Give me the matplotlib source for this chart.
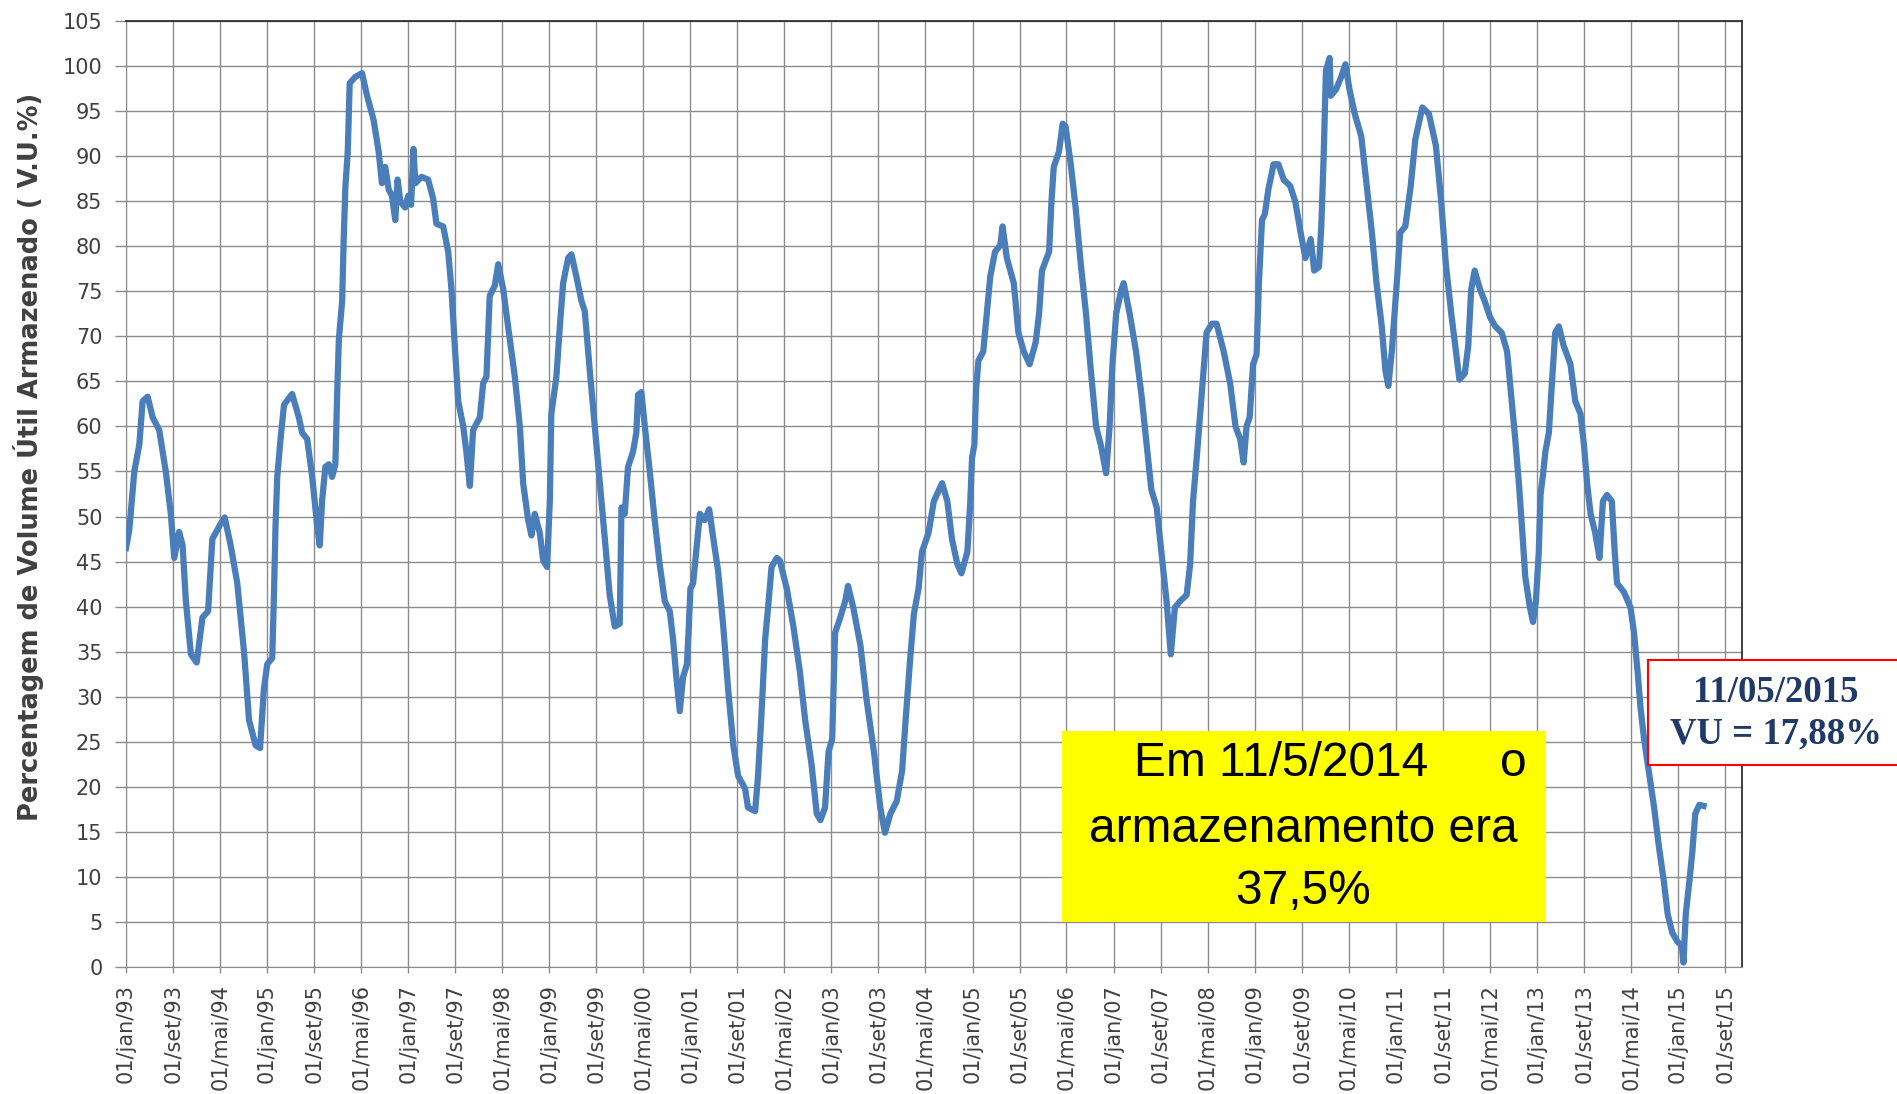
import numpy as np
import matplotlib.pyplot as plt
from matplotlib.patches import Rectangle

# meses contados a partir de 01/jan/1993 e volume útil (%)
meses = [0, 0.57, 1.41, 2.26, 2.83, 3.68, 4.52, 5.65, 6.78, 7.63, 8.2, 9.05, 9.61, 10.18,
         11.03, 12.04, 13.0, 13.97, 14.7, 16.11, 16.79, 17.81, 18.94, 20.07, 20.92, 22.05,
         22.79, 23.46, 24.03, 24.88, 25.16, 25.44, 25.73, 26.29, 26.86, 28.27, 29.4, 29.97,
         30.81, 31.66, 32.51, 32.96, 33.36, 33.92, 34.49, 35.05, 35.62, 35.9, 36.19, 36.75,
         37.03, 37.32, 37.71, 38.05, 39.01, 40.14, 40.99, 42.12, 42.97, 43.54, 44.1, 44.67,
         45.23, 45.8, 46.19, 46.65, 47.49, 48.0, 48.5, 48.9, 49.2, 50.27, 51.4, 52.25, 52.8,
         53.95, 54.8, 55.37, 55.93, 56.5, 57.35, 57.9, 58.48, 59.05, 60.18, 60.75, 61.3,
         61.88, 62.73, 63.3, 64.15, 65.0, 66.13, 66.98, 67.55, 68.4, 68.96, 69.53, 70.38,
         70.95, 71.63, 72.08, 72.36, 73.21, 73.78, 74.35, 75.2, 75.76, 76.61, 77.46, 78.03,
         78.88, 79.73, 80.58, 81.43, 82.28, 83.13, 83.98, 84.26, 84.83, 85.4, 86.25, 86.81,
         87.1, 87.66, 88.23, 89.08, 89.93, 90.78, 91.63, 92.48, 93.05, 93.61, 94.18, 94.75,
         95.4, 95.7, 96.0, 96.45, 97.0, 97.6, 98.4, 99.2, 99.9, 100.7, 101.6, 102.4, 103.3,
         104.1, 105.3, 105.8, 107.0, 107.5, 108.1, 108.7, 109.2, 109.8, 110.7, 111.2, 112.4,
         113.5, 114.6, 115.5, 116.6, 117.5, 118.1, 118.9, 119.5, 120.1, 120.6, 121.5, 122.3,
         122.8, 123.7, 124.9, 126.0, 127.2, 128.3, 129.1, 130.0, 131.1, 132.0, 132.6, 133.4,
         134.0, 134.8, 135.4, 136.5, 137.4, 138.8, 139.7, 140.5, 141.4, 142.1, 143.1, 143.6,
         143.9, 144.3, 144.6, 145.0, 145.8, 146.4, 147.0, 147.8, 148.7, 149.1, 149.8, 151.0,
         151.8, 152.7, 153.7, 154.7, 155.3, 155.8, 157.0, 157.4, 157.8, 158.7, 159.3, 159.8,
         160.7, 161.5, 162.4, 163.3, 164.1, 165.0, 165.8, 166.7, 167.3, 167.8, 168.4, 169.3,
         169.7, 170.7, 171.8, 172.7, 173.5, 174.4, 175.3, 176.1, 177.0, 177.7, 178.4, 179.3,
         180.4, 181.0, 181.5, 182.1, 182.7, 183.3, 183.8, 184.7, 185.5, 186.7, 187.8, 188.7,
         189.5, 190.1, 190.6, 191.1, 191.7, 192.3, 192.7, 193.2, 193.7, 194.3, 195.2, 196.0,
         196.9, 198.0, 198.9, 199.8, 200.6, 201.5, 202.1, 202.9, 203.3, 203.7, 204.1, 204.7,
         204.9, 205.8, 206.7, 207.4, 208.1, 209.0, 210.1, 211.0, 211.9, 212.7, 213.6, 214.2,
         214.7, 215.3, 216.2, 216.7, 217.6, 218.5, 219.3, 220.5, 221.6, 222.8, 223.7, 224.5,
         225.4, 226.2, 226.8, 227.7, 228.3, 228.8, 229.4, 230.3, 231.1, 232.0, 232.9, 234.0,
         234.9, 235.5, 236.3, 236.9, 237.5, 238.0, 238.8, 239.3, 239.8, 240.3, 240.6, 241.1,
         241.4, 242.0, 242.6, 243.1, 243.7, 244.5, 245.7, 246.5, 247.4, 248.0, 248.5, 249.1,
         249.9, 250.6, 251.2, 251.9, 252.7, 253.2, 253.6, 254.8, 255.9, 256.5, 257.1, 257.6,
         258.2, 259.0, 259.9, 260.7, 261.6, 262.2, 263.0, 263.9, 264.6, 264.9, 265.3, 265.9,
         266.4, 266.9, 267.6, 268.33]

vu = [46.5, 48.5, 55, 58, 62.8, 63.3, 61, 59.6, 55, 50.3, 45.4, 48.3, 46.8, 40.6,
      34.7, 33.8, 38.8, 39.5, 47.5, 49.2, 49.9, 46.8, 42.6, 35, 27.4, 24.6,
      24.3, 30.9, 33.6, 34.3, 41.3, 48.9, 54.4, 58.6, 62.4, 63.6, 61, 59.3,
      58.6, 54.4, 48.9, 46.8, 51.7, 55.5, 55.8, 54.4, 55.8, 63.5, 69.7, 73.9,
      80.8, 86.7, 90.5, 98.1, 98.8, 99.2, 96.7, 94, 90.5, 87, 88.8, 86.3,
      85.6, 82.9, 87.4, 85, 84.3, 85.6, 84.6, 90.8, 87, 87.7, 87.4, 85.3, 82.5,
      82.2, 79.4, 75.2, 69, 62.8, 60, 57.2, 53.4, 59.6, 61, 64.8, 65.5,
      74.5, 75.6, 78, 75.2, 71.1, 65.5, 60, 53.7, 49.6, 47.9, 50.3, 48.2,
      45.1, 44.4, 51.7, 61.4, 65.5, 71.1, 75.9, 78.7, 79.1, 76.6, 73.9, 72.8,
      66.2, 60, 53.7, 47.5, 41.3, 37.8, 38.1, 51, 50.3, 55.5, 57.2, 59.3,
      63.5, 63.8, 60, 55.1, 49.6, 44.7, 40.6, 39.5, 36.4, 32.2, 28.4, 32.2,
      33.6, 37.5, 42.0, 42.6, 46.1, 50.3, 49.6, 50.8, 47.5, 44, 37.8, 30.9, 24.6,
      21.2, 19.8, 17.7, 17.3, 21.2, 28.1, 36.4, 39.9, 44.4, 45.4, 45.1, 42,
      37.8, 32.9, 27.4, 22.5, 17, 16.3, 17.7, 23.9, 25.3, 37.1, 38.8, 40.6,
      42.3, 39.9, 35.7, 29.5, 23.9, 17.7, 14.9, 17, 18.4, 21.8, 27.4, 34.3,
      39.2, 42, 46.1, 48.2, 51.7, 53.7, 51.7, 47.5, 44.7, 43.7, 46.1, 51.7,
      56.5, 58, 64.1, 67.3, 68.3, 72.5, 76.6, 79.4, 80.1, 82.2, 78.7, 75.9,
      70.4, 68.3, 66.9, 69.3, 72.5, 77.3, 79.4, 84.9, 88.8, 90.5, 93.6, 93.3,
      89.1, 84.3, 78, 72.5, 66.2, 60, 57.9, 54.8, 60, 66.9, 72.5, 75.2,
      75.9, 72.5, 68.3, 63.5, 58.6, 53, 51, 46.1, 40.6, 34.7, 39.9, 40.6,
      41.3, 44.7, 51.7, 56.5, 61.4, 66.2, 70.4, 71.4, 71.4, 68.3, 64.8, 60,
      58.6, 56.0, 60, 61, 66.9, 68, 75.9, 82.9, 83.6, 86.3, 89.1, 89.1,
      87.4, 86.7, 84.9, 81.5, 78.7, 80.8, 77.3, 77.7, 82.2, 89.8, 99.5, 100.9,
      96.7, 97.4, 98.8, 100.2, 97.4, 94.7, 92.2, 87, 81.5, 75.9, 71.1, 66.2,
      64.5, 68.3, 76.6, 81.5, 82.2, 86.7, 91.9, 95.4, 94.7, 91.2, 84.9, 78,
      72.5, 68.3, 65.2, 65.9, 69, 75.2, 77.3, 75.2, 73.9, 72.1, 71.1, 70.4,
      68.3, 64.1, 58.6, 53.7, 48.2, 43.3, 39.9, 38.3, 40.6, 46.1, 52.4, 55.1,
      57.2, 59.3, 65.5, 70.4, 71.1, 69, 66.9, 62.8, 61.4, 57.9, 53.7, 50.3,
      48.2, 45.4, 51.7, 52.4, 51.7, 46.1, 42.6, 41.6, 39.9, 37.1, 32.9, 28.7,
      25.3, 21.8, 17.7, 13.5, 9.4, 5.9, 3.8, 2.8, 2.4, 0.5, 5.9, 9.4,
      12.8, 17, 18, 17.88]

meses_pt = ['jan', 'fev', 'mar', 'abr', 'mai', 'jun', 'jul', 'ago', 'set', 'out', 'nov', 'dez']
y_ticks = list(range(0, 106, 5))

W, H = 1897, 1094


def fx(px):
    return px / W


def fy(py):
    return 1 - py / H


base = np.datetime64('1993-01-01')
datas = base + np.round(np.array(meses) * 30.4375).astype('timedelta64[D]')

tick_m = list(range(0, 273, 8))
tick_dates = [np.datetime64(f'{1993 + m // 12}-{m % 12 + 1:02d}-01') for m in tick_m]
tick_labels = [f'01/{meses_pt[m % 12]}/{(1993 + m // 12) % 100:02d}' for m in tick_m]

fig = plt.figure(figsize=(W / 100, H / 100), dpi=100)
ax = fig.add_axes([fx(126), fy(967), fx(1742) - fx(126), fy(21) - fy(967)])

ax.plot(datas, vu, color='#4a7ebb', lw=4.5, solid_joinstyle='round', zorder=3)

ax.set_xlim(np.datetime64('1993-01-01'), np.datetime64('2015-11-28'))
ax.set_ylim(0, 105)
ax.set_xticks(tick_dates)
ax.set_xticklabels(tick_labels, rotation=90, fontsize=15, color='#404040')
ax.set_yticks(y_ticks)
ax.set_yticklabels([str(v) for v in y_ticks], fontsize=15, color='#404040')
ax.tick_params(axis='y', length=8, width=1, color='#8c8c8c', pad=9)
ax.tick_params(axis='x', length=4.5, width=1, color='#8c8c8c', pad=8)
ax.grid(True, color='#8c8c8c', lw=1.0, zorder=1)
ax.set_axisbelow(True)
for s in ['left', 'bottom']:
    ax.spines[s].set_color('#8c8c8c')
for s in ['top', 'right']:
    ax.spines[s].set_color('#303030')
    ax.spines[s].set_linewidth(1.3)

fig.text(fx(29), fy(457), 'Percentagem de Volume Útil Armazenado ( V.U.%)', rotation=90,
         ha='center', va='center', fontsize=18.5, fontweight='bold', color='#404040')

# caixa amarela
fig.add_artist(Rectangle((fx(1062), fy(922)), fx(1546) - fx(1062), fy(731) - fy(922),
                         transform=fig.transFigure, facecolor='#ffff00', edgecolor='none', zorder=4))
box_font = dict(family='Liberation Sans', fontsize=34.5, color='black', zorder=5, va='center')
fig.text(fx(1134), fy(763), 'Em 11/5/2014', ha='left', **box_font)
fig.text(fx(1527), fy(763), 'o', ha='right', **box_font)
fig.text(fx(1303), fy(829), 'armazenamento era', ha='center', **box_font)
fig.text(fx(1303), fy(892), '37,5%', ha='center', **box_font)

# caixa vermelha
fig.add_artist(Rectangle((fx(1648), fy(765)), fx(1910) - fx(1648), fy(660) - fy(765),
                         transform=fig.transFigure, facecolor='white', edgecolor='#ff0000',
                         lw=1.5, zorder=4))
red_font = dict(family='Liberation Serif', fontsize=26.5, fontweight='bold', color='#1f3a68',
                zorder=5, ha='center', va='center')
fig.text(fx(1776), fy(692), '11/05/2015', **red_font)
fig.text(fx(1776), fy(734), 'VU = 17,88%', **red_font)

fig.savefig('out.png', dpi=100)
